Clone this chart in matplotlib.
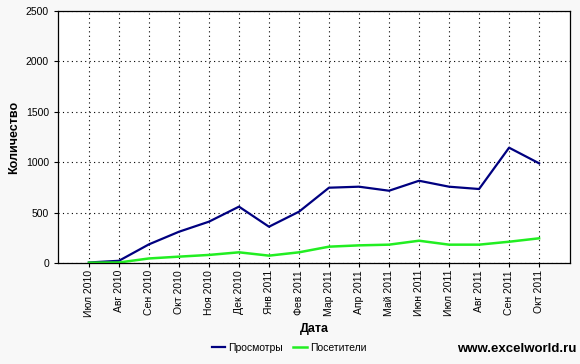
import matplotlib.pyplot as plt

months = ['Июл 2010', 'Авг 2010', 'Сен 2010', 'Окт 2010', 'Ноя 2010', 'Дек 2010',
          'Янв 2011', 'Фев 2011', 'Мар 2011', 'Апр 2011', 'Май 2011', 'Июн 2011',
          'Июл 2011', 'Авг 2011', 'Сен 2011', 'Окт 2011']
views = [5, 22, 185, 310, 410, 559, 360, 509, 747, 757, 717, 816, 757, 734, 1144, 989]
visitors = [3, 5, 45, 63, 80, 106, 73, 106, 162, 175, 182, 221, 182, 182, 211, 245]

plt.rcParams['font.family'] = ['Liberation Sans', 'DejaVu Sans']

fig = plt.figure(figsize=(5.8, 3.64), dpi=100, facecolor='#f8f8f8')
ax = fig.add_axes([58 / 580, 1 - 263 / 364, 512 / 580, 252 / 364])
ax.set_facecolor('white')

x = list(range(len(months)))
ax.plot(x, views, color='#000080', lw=1.6, label='Просмотры')
ax.plot(x, visitors, color='#22ee22', lw=1.8, label='Посетители')

ax.set_xlim(-1.03, 16.03)
ax.set_ylim(0, 2500)
ax.set_yticks(range(0, 2501, 500))
ax.set_xticks(x)
ax.set_xticklabels(months, rotation=90, fontsize=7.5)
ax.tick_params(axis='y', labelsize=7.5, length=3, width=0.8)
ax.tick_params(axis='x', length=3, width=0.8, pad=2)

ax.grid(True, color='black', linestyle=(0, (1, 3)), linewidth=0.8)
for s in ax.spines.values():
    s.set_linewidth(0.9)

ax.set_xlabel('Дата', fontsize=9, fontweight='bold', labelpad=4)
ax.set_ylabel('Количество', fontsize=9, fontweight='bold', labelpad=4)

fig.legend(loc='center', bbox_to_anchor=(289 / 580, 1 - 348 / 364), ncol=2,
           frameon=False, fontsize=7.5, handlelength=1.3, columnspacing=1.0,
           handletextpad=0.3)
fig.text(576 / 580, 1 - 349 / 364, 'www.excelworld.ru', ha='right', va='center',
         fontsize=9.5, fontweight='bold')

fig.savefig('out.png', dpi=100, facecolor=fig.get_facecolor())
